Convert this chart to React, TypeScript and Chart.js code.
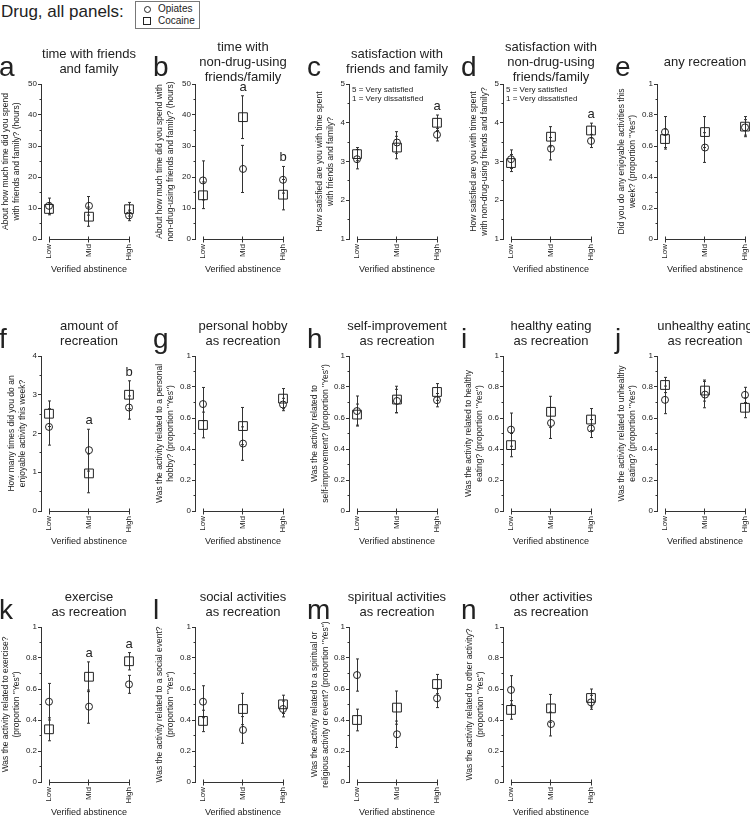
import React, { useEffect, useRef } from 'react';
import { Chart, registerables } from 'chart.js';

Chart.register(...registerables);

const FONT = "'Liberation Sans', Arial, Helvetica, sans-serif";
const INK = '#222';
const AXIS = '#333';

// ---------- shared categories / ticks ----------
const xLevels = ['Low', 'Mid', 'High'];
const xPositions = [0, 1, 2];
const xAxisTitle = 'Verified abstinence';
const seriesNames = ['Opiates', 'Cocaine'];
const legendHeading = 'Drug, all panels:';

const hoursTicks = [0, 10, 20, 30, 40, 50];
const satisfactionTicks = [1, 2, 3, 4, 5];
const countTicks = [0, 1, 2, 3, 4];
const proportionTicks = [0, 0.2, 0.4, 0.6, 0.8, 1];
const satisfactionNote = ['5 = Very satisfied', '1 = Very dissatisfied'];

// ---------- panel a ----------
const titleA = ['time with friends', 'and family'];
const yTitleA = ['About how much time did you spend', 'with friends and family? (hours)'];
const opiatesA = [10.7, 10.7, 7.6];
const opiatesSeA = [2.5, 3.0, 1.7];
const cocaineA = [9.7, 7.2, 9.6];
const cocaineSeA = [1.9, 3.1, 2.2];
const sigA = ['', '', ''];

// ---------- panel b ----------
const titleB = ['time with', 'non-drug-using', 'friends/family'];
const yTitleB = ['About how much time did you spend with', 'non-drug-using friends and family? (hours)'];
const opiatesB = [18.9, 22.6, 19.1];
const opiatesSeB = [6.3, 7.6, 4.3];
const cocaineB = [14.1, 39.3, 14.3];
const cocaineSeB = [4.3, 6.9, 4.9];
const sigB = ['', 'a', 'b'];

// ---------- panel c ----------
const titleC = ['satisfaction with', 'friends and family'];
const yTitleC = ['How satisfied are you with time spent', 'with friends and family?'];
const opiatesC = [3.06, 3.49, 3.69];
const opiatesSeC = [0.25, 0.28, 0.16];
const cocaineC = [3.19, 3.36, 4.0];
const cocaineSeC = [0.17, 0.29, 0.2];
const sigC = ['', '', 'a'];

// ---------- panel d ----------
const titleD = ['satisfaction with', 'non-drug-using', 'friends/family'];
const yTitleD = ['How satisfied are you with time spent', 'with non-drug-using friends and family?'];
const opiatesD = [3.06, 3.33, 3.53];
const opiatesSeD = [0.24, 0.29, 0.17];
const cocaineD = [2.96, 3.64, 3.8];
const cocaineSeD = [0.22, 0.26, 0.19];
const sigD = ['', '', 'a'];

// ---------- panel e ----------
const titleE = ['any recreation'];
const yTitleE = ['Did you do any enjoyable activities this', 'week? (proportion "Yes")'];
const opiatesE = [0.69, 0.59, 0.72];
const opiatesSeE = [0.1, 0.096, 0.05];
const cocaineE = [0.645, 0.69, 0.725];
const cocaineSeE = [0.065, 0.1, 0.065];
const sigE = ['', '', ''];

// ---------- panel f ----------
const titleF = ['amount of', 'recreation'];
const yTitleF = ['How many times did you do an', 'enjoyable activity this week?'];
const opiatesF = [2.17, 1.57, 2.67];
const opiatesSeF = [0.47, 0.54, 0.3];
const cocaineF = [2.51, 0.97, 3.0];
const cocaineSeF = [0.33, 0.5, 0.36];
const sigF = ['', 'a', 'b'];

// ---------- panel g ----------
const titleG = ['personal hobby', 'as recreation'];
const yTitleG = ['Was the activity related to a personal', 'hobby? (proportion "Yes")'];
const opiatesG = [0.69, 0.435, 0.687];
const opiatesSeG = [0.107, 0.108, 0.04];
const cocaineG = [0.555, 0.548, 0.725];
const cocaineSeG = [0.083, 0.12, 0.065];
const sigG = ['', '', ''];

// ---------- panel h ----------
const titleH = ['self-improvement', 'as recreation'];
const yTitleH = ['Was the activity related to', 'self-improvement? (proportion "Yes")'];
const opiatesH = [0.645, 0.71, 0.715];
const opiatesSeH = [0.097, 0.075, 0.043];
const cocaineH = [0.622, 0.719, 0.768];
const cocaineSeH = [0.068, 0.086, 0.054];
const sigH = ['', '', ''];

// ---------- panel i ----------
const titleI = ['healthy eating', 'as recreation'];
const yTitleI = ['Was the activity related to healthy', 'eating? (proportion "Yes")'];
const opiatesI = [0.525, 0.568, 0.532];
const opiatesSeI = [0.107, 0.1, 0.058];
const cocaineI = [0.425, 0.64, 0.59];
const cocaineSeI = [0.075, 0.1, 0.071];
const sigI = ['', '', ''];

// ---------- panel j ----------
const titleJ = ['unhealthy eating', 'as recreation'];
const yTitleJ = ['Was the activity related to unhealthy', 'eating? (proportion "Yes")'];
const opiatesJ = [0.717, 0.751, 0.749];
const opiatesSeJ = [0.089, 0.085, 0.049];
const cocaineJ = [0.813, 0.777, 0.666];
const cocaineSeJ = [0.049, 0.068, 0.064];
const sigJ = ['', '', ''];

// ---------- panel k ----------
const titleK = ['exercise', 'as recreation'];
const yTitleK = ['Was the activity related to exercise?', '(proportion "Yes")'];
const opiatesK = [0.518, 0.486, 0.63];
const opiatesSeK = [0.118, 0.107, 0.058];
const cocaineK = [0.34, 0.679, 0.779];
const cocaineSeK = [0.074, 0.096, 0.056];
const sigK = ['', 'a', 'a'];

// ---------- panel l ----------
const titleL = ['social activities', 'as recreation'];
const yTitleL = ['Was the activity related to a social event?', '(proportion "Yes")'];
const opiatesL = [0.518, 0.336, 0.471];
const opiatesSeL = [0.103, 0.086, 0.051];
const cocaineL = [0.394, 0.471, 0.501];
const cocaineSeL = [0.069, 0.101, 0.059];
const sigL = ['', '', ''];

// ---------- panel m ----------
const titleM = ['spiritual activities', 'as recreation'];
const yTitleM = ['Was the activity related to a spiritual or', 'religious activity or event? (proportion "Yes")'];
const opiatesM = [0.69, 0.308, 0.54];
const opiatesSeM = [0.104, 0.085, 0.06];
const cocaineM = [0.4, 0.48, 0.632];
const cocaineSeM = [0.07, 0.107, 0.062];
const sigM = ['', '', ''];

// ---------- panel n ----------
const titleN = ['other activities', 'as recreation'];
const yTitleN = ['Was the activity related to other activity?', '(proportion "Yes")'];
const opiatesN = [0.594, 0.374, 0.514];
const opiatesSeN = [0.092, 0.077, 0.045];
const cocaineN = [0.465, 0.475, 0.542];
const cocaineSeN = [0.06, 0.09, 0.058];
const sigN = ['', '', ''];

type PanelDef = {
  letter: string;
  title: string[];
  yTitle: string[];
  ticks: number[];
  opi: number[];
  opiSe: number[];
  coc: number[];
  cocSe: number[];
  sig: string[];
  note?: string[];
};

const panels: PanelDef[] = [
  { letter: 'a', title: titleA, yTitle: yTitleA, ticks: hoursTicks, opi: opiatesA, opiSe: opiatesSeA, coc: cocaineA, cocSe: cocaineSeA, sig: sigA },
  { letter: 'b', title: titleB, yTitle: yTitleB, ticks: hoursTicks, opi: opiatesB, opiSe: opiatesSeB, coc: cocaineB, cocSe: cocaineSeB, sig: sigB },
  { letter: 'c', title: titleC, yTitle: yTitleC, ticks: satisfactionTicks, opi: opiatesC, opiSe: opiatesSeC, coc: cocaineC, cocSe: cocaineSeC, sig: sigC, note: satisfactionNote },
  { letter: 'd', title: titleD, yTitle: yTitleD, ticks: satisfactionTicks, opi: opiatesD, opiSe: opiatesSeD, coc: cocaineD, cocSe: cocaineSeD, sig: sigD, note: satisfactionNote },
  { letter: 'e', title: titleE, yTitle: yTitleE, ticks: proportionTicks, opi: opiatesE, opiSe: opiatesSeE, coc: cocaineE, cocSe: cocaineSeE, sig: sigE },
  { letter: 'f', title: titleF, yTitle: yTitleF, ticks: countTicks, opi: opiatesF, opiSe: opiatesSeF, coc: cocaineF, cocSe: cocaineSeF, sig: sigF },
  { letter: 'g', title: titleG, yTitle: yTitleG, ticks: proportionTicks, opi: opiatesG, opiSe: opiatesSeG, coc: cocaineG, cocSe: cocaineSeG, sig: sigG },
  { letter: 'h', title: titleH, yTitle: yTitleH, ticks: proportionTicks, opi: opiatesH, opiSe: opiatesSeH, coc: cocaineH, cocSe: cocaineSeH, sig: sigH },
  { letter: 'i', title: titleI, yTitle: yTitleI, ticks: proportionTicks, opi: opiatesI, opiSe: opiatesSeI, coc: cocaineI, cocSe: cocaineSeI, sig: sigI },
  { letter: 'j', title: titleJ, yTitle: yTitleJ, ticks: proportionTicks, opi: opiatesJ, opiSe: opiatesSeJ, coc: cocaineJ, cocSe: cocaineSeJ, sig: sigJ },
  { letter: 'k', title: titleK, yTitle: yTitleK, ticks: proportionTicks, opi: opiatesK, opiSe: opiatesSeK, coc: cocaineK, cocSe: cocaineSeK, sig: sigK },
  { letter: 'l', title: titleL, yTitle: yTitleL, ticks: proportionTicks, opi: opiatesL, opiSe: opiatesSeL, coc: cocaineL, cocSe: cocaineSeL, sig: sigL },
  { letter: 'm', title: titleM, yTitle: yTitleM, ticks: proportionTicks, opi: opiatesM, opiSe: opiatesSeM, coc: cocaineM, cocSe: cocaineSeM, sig: sigM },
  { letter: 'n', title: titleN, yTitle: yTitleN, ticks: proportionTicks, opi: opiatesN, opiSe: opiatesSeN, coc: cocaineN, cocSe: cocaineSeN, sig: sigN },
];

// ---------- layout (pixels) ----------
const COL_W = 154;
const ROW_CHART_TOP = [84, 356, 627];
const PLOT_H = 155;
const CANVAS_PAD_TOP = 20;
const Y_BOX_W = 41;
const X_BOX_H = 46;
const PAD_RIGHT = 17;
const CANVAS_H = CANVAS_PAD_TOP + PLOT_H + X_BOX_H;
const Y_TITLE_PAD = [0, 0, 6, 6, 0, 6, 0, 1, 1, 0, 0, 0, 1, 2];

const alignPx = (v: number) => Math.round(v - 0.5) + 0.5;

const decoPlugin = {
  id: 'deco',
  beforeDatasetsDraw(chart: any) {
    const { ctx, chartArea } = chart;
    const xs = chart.scales.x;
    const ys = chart.scales.y;
    ctx.save();
    ctx.strokeStyle = AXIS;
    ctx.lineWidth = 1;
    ctx.beginPath();
    // offset x axis spanning the categories
    const yb = alignPx(ys.getPixelForValue(ys.min));
    const xFirst = xs.getPixelForValue(xPositions[0]);
    const xLast = xs.getPixelForValue(xPositions[xPositions.length - 1]);
    ctx.moveTo(alignPx(xFirst), yb);
    ctx.lineTo(alignPx(xLast) + 0.5, yb);
    xPositions.forEach((v) => {
      const px = alignPx(xs.getPixelForValue(v));
      ctx.moveTo(px, yb - 3);
      ctx.lineTo(px, yb + 3);
    });
    // minor y ticks
    const tv = ys.ticks.map((t: any) => t.value);
    const xl = alignPx(chartArea.left);
    for (let i = 0; i < tv.length - 1; i++) {
      const py = alignPx(ys.getPixelForValue((tv[i] + tv[i + 1]) / 2));
      ctx.moveTo(xl - 2, py);
      ctx.lineTo(xl, py);
    }
    // error bars
    chart.data.datasets.forEach((ds: any) => {
      ds.data.forEach((p: any, i: number) => {
        const e = ds.errorBars[i];
        const px = alignPx(xs.getPixelForValue(p.x));
        const t = ys.getPixelForValue(p.y + e);
        const b = ys.getPixelForValue(p.y - e);
        ctx.moveTo(px, t);
        ctx.lineTo(px, b);
        ctx.moveTo(px - 1.5, t);
        ctx.lineTo(px + 1.5, t);
        ctx.moveTo(px - 1.5, b);
        ctx.lineTo(px + 1.5, b);
      });
    });
    ctx.stroke();
    ctx.restore();
  },
  afterDatasetsDraw(chart: any, _args: any, opts: any) {
    const letters: string[] = (opts && opts.letters) || [];
    const { ctx } = chart;
    const xs = chart.scales.x;
    const ys = chart.scales.y;
    ctx.save();
    ctx.font = `13px ${FONT}`;
    ctx.fillStyle = INK;
    ctx.textAlign = 'center';
    ctx.textBaseline = 'alphabetic';
    letters.forEach((s, i) => {
      if (!s) return;
      let top = -Infinity;
      chart.data.datasets.forEach((ds: any) => {
        top = Math.max(top, ds.data[i].y + ds.errorBars[i]);
      });
      ctx.fillText(s, xs.getPixelForValue(xPositions[i]), ys.getPixelForValue(top) - 5);
    });
    ctx.restore();
  },
};

function Panel({ def, index }: { def: PanelDef; index: number }) {
  const ref = useRef<HTMLCanvasElement>(null);
  const col = index % 5;
  const row = Math.floor(index / 5);
  const chartTop = ROW_CHART_TOP[row];
  const left = col * COL_W;

  useEffect(() => {
    const ticks = def.ticks;
    const chart = new Chart(ref.current as HTMLCanvasElement, {
      type: 'scatter',
      data: {
        datasets: [
          {
            label: seriesNames[0],
            data: def.opi.map((y, i) => ({ x: xPositions[i], y })),
            errorBars: def.opiSe,
            pointStyle: 'circle',
            pointRadius: 3.5,
            borderColor: INK,
            backgroundColor: 'rgba(0,0,0,0)',
            borderWidth: 1,
            clip: false,
          } as any,
          {
            label: seriesNames[1],
            data: def.coc.map((y, i) => ({ x: xPositions[i], y })),
            errorBars: def.cocSe,
            pointStyle: 'rect',
            pointRadius: 6.2,
            borderColor: INK,
            backgroundColor: 'rgba(0,0,0,0)',
            borderWidth: 1,
            clip: false,
          } as any,
        ],
      },
      options: {
        responsive: false,
        animation: false,
        devicePixelRatio: 1,
        events: [],
        layout: { padding: { left: 0, right: PAD_RIGHT, top: CANVAS_PAD_TOP, bottom: 0 } },
        plugins: {
          legend: { display: false },
          tooltip: { enabled: false },
          deco: { letters: def.sig },
        } as any,
        scales: {
          x: {
            type: 'linear',
            min: xPositions[0] - 0.2,
            max: xPositions[xPositions.length - 1] + 0.2,
            afterBuildTicks: (s: any) => {
              s.ticks = xPositions.map((v) => ({ value: v }));
            },
            afterFit: (s: any) => {
              s.height = X_BOX_H;
            },
            grid: { display: false, drawTicks: false },
            border: { display: false },
            ticks: {
              autoSkip: false,
              minRotation: 90,
              maxRotation: 90,
              padding: 5,
              color: INK,
              font: { size: 8, family: FONT },
              callback: (v: any) => xLevels[xPositions.indexOf(Number(v))] ?? '',
            },
            title: {
              display: true,
              text: xAxisTitle,
              color: INK,
              font: { size: 9, family: FONT },
              padding: { top: 0, bottom: 10 },
            },
          },
          y: {
            type: 'linear',
            min: ticks[0],
            max: ticks[ticks.length - 1],
            afterBuildTicks: (s: any) => {
              s.ticks = ticks.map((v) => ({ value: v }));
            },
            afterFit: (s: any) => {
              s.width = Y_BOX_W;
            },
            grid: {
              display: true,
              drawOnChartArea: false,
              drawTicks: true,
              tickLength: 3,
              color: AXIS,
              tickColor: AXIS,
              tickWidth: 1,
            },
            border: { display: true, color: AXIS, width: 1 },
            ticks: {
              padding: 1,
              color: INK,
              font: { size: 8, family: FONT },
              callback: (v: any) => String(v),
            },
            title: {
              display: true,
              text: def.yTitle,
              color: INK,
              font: { size: 8.5, family: FONT, lineHeight: 1.3 },
              padding: { top: Y_TITLE_PAD[index], bottom: 0 },
            },
          },
        },
      },
      plugins: [decoPlugin as any],
    });
    return () => chart.destroy();
  }, []);

  return (
    <>
      <canvas
        ref={ref}
        width={COL_W}
        height={CANVAS_H}
        style={{ position: 'absolute', left, top: chartTop - CANVAS_PAD_TOP, width: COL_W, height: CANVAS_H }}
      />
      <div
        style={{
          position: 'absolute',
          left: left + 89 - 80,
          top: chartTop - 23 - 30,
          width: 160,
          height: 60,
          display: 'flex',
          flexDirection: 'column',
          justifyContent: 'center',
          alignItems: 'center',
          fontSize: 13,
          lineHeight: '15px',
          textAlign: 'center',
          whiteSpace: 'nowrap',
        }}
      >
        {def.title.map((t, i) => (
          <div key={i}>{t}</div>
        ))}
      </div>
      <div
        style={{
          position: 'absolute',
          left: left - 1,
          top: chartTop - 31,
          fontSize: 28,
          lineHeight: '28px',
        }}
      >
        {def.letter}
      </div>
      {def.note && (
        <div
          style={{
            position: 'absolute',
            left: left + 44,
            top: chartTop + 0.5,
            fontSize: 8,
            lineHeight: '9px',
            whiteSpace: 'nowrap',
          }}
        >
          {def.note.map((t, i) => (
            <div key={i}>{t}</div>
          ))}
        </div>
      )}
    </>
  );
}

function Legend() {
  return (
    <>
      <div style={{ position: 'absolute', left: 1, top: 2, fontSize: 17, lineHeight: '20px', whiteSpace: 'nowrap' }}>
        {legendHeading}
      </div>
      <div
        style={{
          position: 'absolute',
          left: 135,
          top: 1,
          width: 63,
          height: 26,
          border: '1px solid #777',
        }}
      />
      <div
        style={{
          position: 'absolute',
          left: 144,
          top: 6,
          width: 5,
          height: 5,
          border: `1px solid ${INK}`,
          borderRadius: '50%',
        }}
      />
      <div
        style={{
          position: 'absolute',
          left: 143,
          top: 17,
          width: 6,
          height: 6,
          border: `1px solid ${INK}`,
        }}
      />
      <div style={{ position: 'absolute', left: 158, top: 3, fontSize: 10, lineHeight: '12px' }}>{seriesNames[0]}</div>
      <div style={{ position: 'absolute', left: 158, top: 15, fontSize: 10, lineHeight: '12px' }}>{seriesNames[1]}</div>
    </>
  );
}

export default function App() {
  return (
    <div
      style={{
        position: 'absolute',
        left: 0,
        top: 0,
        width: 750,
        height: 816,
        overflow: 'hidden',
        background: '#fff',
        fontFamily: FONT,
        color: INK,
      }}
    >
      <Legend />
      {panels.map((p, i) => (
        <Panel key={p.letter} def={p} index={i} />
      ))}
    </div>
  );
}
